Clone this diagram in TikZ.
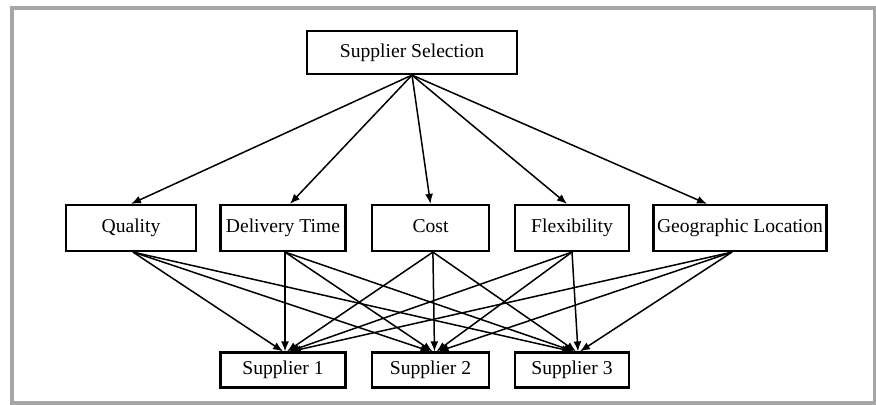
\documentclass[tikz,border=0pt]{standalone}
\usepackage{fontspec}
\setmainfont{Liberation Serif}
\usetikzlibrary{arrows.meta}
\begin{document}
\begin{tikzpicture}[x=0.5pt,y=-0.5pt,
		box/.style={draw,line width=1.1pt,inner sep=0,text height=7pt,text depth=2.2pt,font=\fontsize{9.8}{12}\selectfont},
		arr/.style={-{Latex[length=5pt,width=4pt]},line width=0.75pt},
		frame/.style={draw=black!35,line width=2pt}]
		\useasboundingbox (0,0) rectangle (876,405);
		\draw[frame] (11.5,8) rectangle (875,403);
		\begin{scope}[nodes={box}]
		\node[minimum width=105pt,minimum height=21.5pt] (sel) at (412,52.5) {Supplier Selection};
		% criteria
		\node[minimum width=65pt,minimum height=23pt] (q) at (131,228) {Quality};
		\node[minimum width=62.5pt,minimum height=23pt] (d) at (283,228) {Delivery Time};
		\node[minimum width=58.5pt,minimum height=23pt] (c) at (430.5,228) {Cost};
		\node[minimum width=57pt,minimum height=23pt] (f) at (572,228) {Flexibility};
		\node[minimum width=86.5pt,minimum height=23pt] (g) at (740,228) {Geographic Location};
		% alternatives
		\node[minimum width=62.5pt,minimum height=17.5pt] (s1) at (283,370) {Supplier 1};
		\node[minimum width=58.5pt,minimum height=17.5pt] (s2) at (430.5,370) {Supplier 2};
		\node[minimum width=57pt,minimum height=17.5pt] (s3) at (572,370) {Supplier 3};
		\end{scope}
		\draw[arr] (sel.south) -- (q.north);
		\draw[arr] (sel.south) -- ([xshift=3.5pt]d.north);
		\draw[arr] (sel.south) -- (c.north);
		\draw[arr] (sel.south) -- ([xshift=-2.5pt]f.north);
		\draw[arr] (sel.south) -- ([xshift=-16.5pt]g.north);
		\foreach \a/\i/\o in {q/0/1pt,d/1/1pt,c/2/1.2pt,f/3/0pt,g/4/-4pt}
		\foreach \b in {s1,s2,s3}
		\draw[arr] ([xshift=\o]\a.south) -- ([xshift=\i pt]\b.north);
\end{tikzpicture}
\end{document}
